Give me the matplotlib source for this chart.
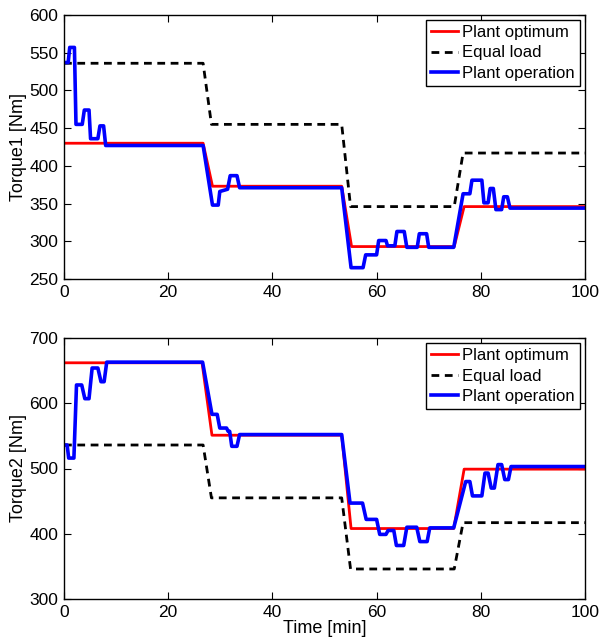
import matplotlib
matplotlib.use("Agg")
import matplotlib.pyplot as plt

plt.rcParams['font.family'] = ['Liberation Sans', 'DejaVu Sans']

# Equal load (same for both motors)
eq_t = [0, 26.7, 28.3, 53.3, 55.0, 74.9, 76.6, 100]
eq_v = [536, 536, 455, 455, 346, 346, 417, 417]

# Torque 1
opt1_t = [0, 26.7, 28.5, 53.3, 55.2, 74.9, 76.8, 100]
opt1_v = [430, 430, 373, 373, 293, 293, 346, 346]
op1_t = [0, 0.8, 1.1, 2.0, 2.3, 3.5, 3.9, 4.8, 5.1, 6.5, 6.9, 7.6, 8.0,
         26.7, 28.5, 29.6, 29.9, 31.4, 31.9, 33.2, 33.7,
         53.3, 55.1, 57.4, 57.9, 60.0, 60.4, 61.8, 62.1, 63.5, 63.9, 65.3, 65.8,
         67.8, 68.2, 69.6, 70.0, 74.8, 76.6, 77.9, 78.3, 80.2, 80.6, 81.4, 81.8,
         82.4, 82.9, 84.0, 84.4, 85.1, 85.6, 100]
op1_v = [537, 537, 557, 557, 455, 455, 474, 474, 436, 436, 453, 453, 427,
         427, 348, 348, 366, 369, 387, 387, 371,
         371, 265, 265, 282, 282, 301, 301, 294, 294, 313, 313, 292,
         292, 310, 310, 292, 292, 363, 363, 381, 381, 351, 351, 370,
         370, 342, 342, 359, 359, 344, 344]

# Torque 2
opt2_t = [0, 26.5, 28.4, 53.3, 55.1, 74.8, 76.8, 100]
opt2_v = [662, 662, 551, 551, 408, 408, 499, 499]
op2_t = [0, 0.6, 0.9, 1.9, 2.4, 3.4, 4.0, 4.8, 5.4, 6.5, 7.1, 7.7, 8.2,
         26.6, 28.4, 29.4, 29.9, 31.2, 31.5, 31.8, 32.2, 33.2, 33.7,
         53.3, 54.9, 57.3, 58.0, 60.0, 60.6, 61.8, 62.2, 63.3, 63.8, 65.2, 65.8,
         67.7, 68.3, 69.7, 70.2, 74.8, 77.1, 77.9, 78.4, 80.2, 80.8, 81.4, 82.0,
         82.6, 83.3, 84.0, 84.6, 85.3, 85.8, 100]
op2_v = [536, 536, 516, 516, 628, 628, 607, 607, 654, 654, 633, 633, 663,
         663, 583, 583, 562, 562, 557, 557, 534, 534, 552,
         552, 447, 447, 422, 422, 399, 399, 405, 405, 382, 382, 410,
         410, 388, 388, 409, 409, 480, 480, 458, 458, 493, 493, 470,
         470, 506, 506, 483, 483, 503, 503]

labels = ['Plant optimum', 'Equal load', 'Plant operation']
x_ticks = [0, 20, 40, 60, 80, 100]

W, H = 602, 641
fig = plt.figure(figsize=(W / 100, H / 100), dpi=100)
ax1 = fig.add_axes([64 / W, 1 - 279 / H, 521 / W, 264 / H])
ax2 = fig.add_axes([64 / W, 1 - 599 / H, 521 / W, 261 / H])

panels = [
    (ax1, opt1_t, opt1_v, op1_t, op1_v, (250, 600), list(range(250, 601, 50)), 'Torque1 [Nm]'),
    (ax2, opt2_t, opt2_v, op2_t, op2_v, (300, 700), list(range(300, 701, 100)), 'Torque2 [Nm]'),
]

for ax, ot, ov, pt, pv, ylim, yt, ylab in panels:
    ax.plot(ot, ov, color='#ff0000', lw=2.0, label=labels[0])
    ax.plot(eq_t, eq_v, color='black', lw=2.0, ls=(0, (2.8, 2.0)), label=labels[1])
    ax.plot(pt, pv, color='#0000ff', lw=2.6, label=labels[2])
    ax.set_xlim(0, 100)
    ax.set_ylim(*ylim)
    ax.set_xticks(x_ticks)
    ax.set_yticks(yt)
    ax.tick_params(direction='in', top=True, right=True, length=5, width=0.8,
                   labelsize=12.5, pad=4)
    for s in ax.spines.values():
        s.set_linewidth(1.0)
    ax.set_ylabel(ylab, fontsize=13, labelpad=2)
    leg = ax.legend(loc='upper right', fontsize=12, frameon=True, fancybox=False,
                    edgecolor='black', framealpha=1, handlelength=1.65,
                    handletextpad=0.25, labelspacing=0.33, borderpad=0.3,
                    borderaxespad=0.3)
    leg.get_frame().set_linewidth(1.0)

ax2.set_xlabel('Time [min]', fontsize=13, labelpad=0)

fig.savefig('out.png', dpi=100)
